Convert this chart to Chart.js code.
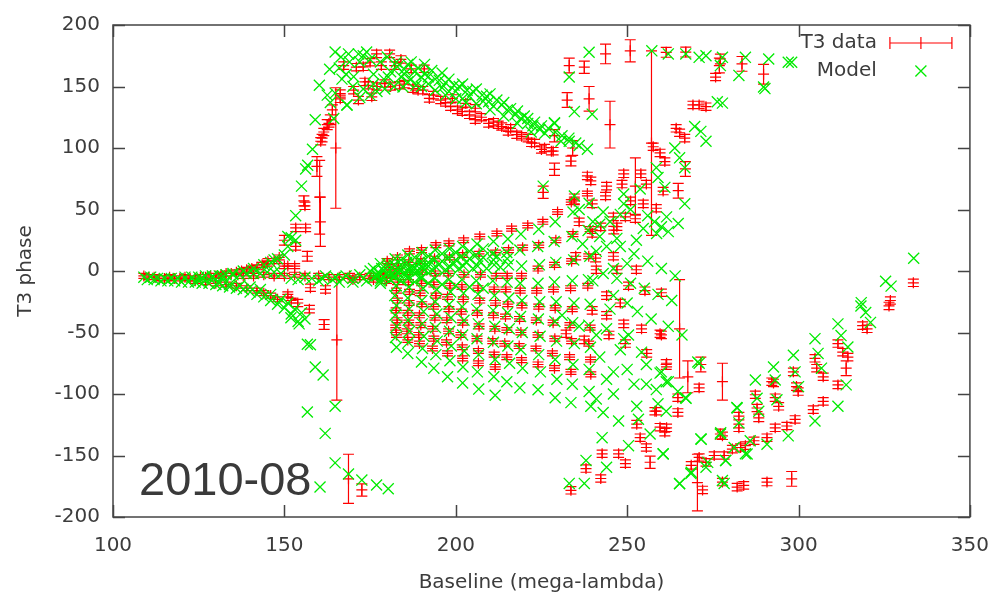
<!DOCTYPE html>
<html>
<head>
<meta charset="utf-8">
<script src="https://cdn.jsdelivr.net/npm/chart.js@4.4.1/dist/chart.umd.min.js"></script>
<style>
html,body{margin:0;padding:0;background:#fff;}
canvas{display:block;}
</style>
</head>
<body>
<canvas id="c" width="1006" height="595"></canvas>
<script>
// ---- tick labels ----
const xTickValues = [100, 150, 200, 250, 300, 350];
const yTickValues = [-200, -150, -100, -50, 0, 50, 100, 150, 200];
const seriesNames = ['T3 data', 'Model'];
const panelLabel = '2010-08';

// ---- T3 data: [baseline (mega-lambda), T3 phase (deg), error (deg)] ----
const t3Points = [
// left tail
[109,-4,2],[110.5,-5,2],[112,-5,2],[113.5,-6,2],[115,-6,2],[116.5,-5,2],[118,-6,2],[119.5,-6,2],[121,-5,2],[122.5,-6,2],
[124,-6,2],[125.5,-5,2],[127,-5,2],[128.5,-4,2],[130,-4,2],[131.5,-3,2],[133,-2,2],[134.5,-2,2],[136,-1,2],[137.5,0,2],
[139,1,2],[140.5,2,2],[142,3,2],[143.5,5,2],[145,6,2],[145.2,8,2],[147,8,2],[148.5,11,2],[150,4,2],[153,4,2],[151,4,2],
[124,-8,2],[127,-9,2],[130,-10,2],[133,-11,2],[136,-12,2],[139,-14,2],[142,-16,2],[144,-18,2],[146,-20,2],[148,-23,2],
[151,-19,2],[152,-24,2],[153.9,-26,3],[157.3,-31,3],[161.6,-43.5,4],[157.6,-13.6,3],[162,-15,3],
[138,-4,2],[141,-4,2],[144,-3,2],[147,-4,2],[150,-4,2],[153,-3,2],[156,-4,2],
// rising branch
[150,25,4],[153.3,20,3],[153.3,35,3],[156.2,35,3],[155.7,57,4],[156,53,3],[156.7,12,4],
[159.5,85,8],[160.3,60,30],[160.5,40,20],[161,108,3],[161.5,113,3],[162.5,119,4],[163.4,123,4],[164,131,4],[165,100,49],
[160.6,105.5,3],[163,120,3],[165.3,-56,49],[168.7,-169,20],[172.6,-178,5],
// middle strand
[160,-4,2],[163,-5,2],[166,-5,2],[169,-4,2],[172,-5,2],[175,-4,2],[178,-4,2],[181,-3,2],[170,-7,2],[176,-7,2],
// arc (upper)
[167.3,167,3],[171,165.7,3],[173,166,3],[175,169.7,3],[176.9,176.5,3],[178.3,167,3],[180.7,176.5,3],[182.2,167,3],
[184,172,3],[187,164.4,3],[190.8,164.4,3],
// arc (main)
[166.3,140,3],[166.3,144.3,3],[170.2,147,3],[171.6,139,3],[173.5,153.7,3],[174.5,151,3],[175.5,141.6,3],[177,150,3],
[179.3,152.4,3],[181,150,3],[183.6,151,3],[185,152,3],[187.5,148.3,3],[189,147,3],[190.4,147,3],[192.3,140.3,3],
[193.5,143,3],[195.6,139,3],[197,137,3],[198.5,133.6,3],[199,140.3,3],[200.5,131,3],[201.9,129.6,3],[202.9,136.3,3],
[204,127,3],[205.7,123,3],[205.7,132.3,3],[207.5,125,3],[209.6,120,3],[211,121,3],[212.4,118.9,3],[213.4,117.5,3],
[215.3,113.5,3],[216,116,3],[217.8,110.8,3],[219.2,109.5,3],[221.1,108,3],[222.1,104.2,3],[223,104,3],[225,98.8,3],
[225.9,100,3],[227.9,97.4,3],[228.4,97.4,3],[228.8,110,5],[228.8,82.7,5],[233.6,89.4,4],[234.1,100,6],[225.5,64,5],[234.6,58.6,4],
// top right
[237.5,165.7,5],[243.7,176.5,8],[250.9,179,9],[257.1,104,75],[261.4,177.8,4],[267.1,178,4],[276.9,167,6],[275.8,157.7,3],
[277.2,172.4,4],[283.5,168.4,6],[289.8,160,8],[232.5,139,6],[238.9,140,10],[245,119,19],[233.1,167,6],
[271,135,3],[269.2,135,3],[273,133.6,3],[264.3,116,3],[265.3,112.4,3],[266.8,108,3],[257.6,101,3],[259.6,96,3],
[261,89,3],[267,83,6],[260.5,65,3],[264.9,65.3,6],[258.5,51,3],[254,79,3],[255.6,70.7,3],[254.7,54.6,3],[252.4,69,23],
[238.4,77.3,3],[239.4,73.3,3],
// rising cluster right of fan
[234.6,57,3],[239.8,54.6,3],[236,40,3],[239.8,30.5,3],[244,69,3],[243.7,61,3],[249,79,3],[248.5,70.7,3],
[246,44,3],[247,36,3],[249.5,44,3],[252.4,42.5,3],[251,57,3],[235,12,3],[240.8,10.4,3],[246,12,3],[241,1,3],[247,1,3],
[252.7,1,3],[250.4,-12,3],[255.2,-16,3],[260,-17.7,3],[265.3,-47,40],[242.3,35.9,3],[246.1,33.2,3],
// fan lattice
[180,8,2],[180.5,3,2],[180,-3,2],[179.8,-8,2],
[183,11,2],[183.2,4,2],[182.8,-2,2],[183,-9,2],[182.7,-16,2],[183,-24,2],[182.6,-32,2],[182.9,-40,2],[182.5,-46,2],[182.7,-52,2],
[186.5,16,2],[186.3,7,2],[186.6,-1,2],[186.2,-9,2],[186.5,-17,2],[186.4,-26,2],[186,-34,2],[186.3,-42,2],[185.8,-49,2],[186,-56,2],
[190,17,2],[189.8,8,2],[190.2,-1,2],[190,-10,2],[189.6,-18,2],[190.1,-27,2],[189.4,-36,2],[189.8,-44,2],[189.2,-52,2],[189.4,-59,2],
[194.2,21,2],[193.8,10,2],[194,-2,2],[193.6,-11,2],[194.2,-20,2],[193.5,-29,2],[193.9,-38,2],[193.3,-47,2],[193.6,-55,2],[193.2,-63,2],
[198,22.5,2],[198.2,11,2],[197.8,-2,2],[198.3,-12,2],[197.6,-21,2],[198,-31,2],[197.4,-40,2],[197.9,-49,2],[197.3,-58,2],[197.6,-67,2],
[202.3,25,2],[202,13,2],[202.4,-3,2],[201.8,-13,2],[202.2,-23,2],[201.6,-33,2],[202,-42,2],[201.5,-52,2],[201.9,-62,2],[202,-71,2],
[207,28,2],[206.8,14,2],[207.2,-3,2],[206.5,-14,2],[207,-24,2],[206.3,-34,2],[206.8,-45,2],[206.2,-55,2],[206.6,-65,2],[206.6,-75,2],
[212,30.5,2],[211.6,15,2],[211.8,-4,2],[211.2,-15,2],[211.6,-26,2],[211,-36,2],[211.4,-47,2],[210.8,-57,2],[211.2,-68,2],[211.5,-78,2],
[216.3,34.5,2],[215.4,17,2],[215,-4,2],[214.6,-15,2],[215.2,-27,2],[214.5,-37,2],[214.9,-48,2],[214.3,-59,2],[214.9,-70,2],
[221,37,2],[219.5,19,2],[219.2,-4,2],[218.8,-16,2],[219.3,-28,2],[218.6,-39,2],[219,-50,2],[218.5,-61,2],[219.2,-72.5,2],
[225.4,40,2],[224.2,21,2],[224,2,2],[223.6,-16,2],[224.2,-29,2],[223.5,-40,2],[224,-52,2],[223.4,-63,2],[224,-76,2],
[229.7,48,2],[229.2,25,2],[228.8,5,2],[228.5,-15,2],[229,-30,2],[228.4,-42,2],[228.9,-55,2],[228.2,-67,2],[228.8,-79,2],
[233.7,56,2],[234.2,30,2],[233.8,8,2],[233.5,-14,2],[234,-31,2],[233.3,-44,2],[233.8,-57,2],[233.2,-70,2],[233.6,-82,2],
[238.4,63,2],[239.2,34,2],[238.8,12,2],[238.5,-12,2],[239.2,-46,2],[238.8,-59,2],[239.3,-72,2],[239.4,-84,2],
// mid right
[239.8,-32,3],[244,-36,3],[249,-43,3],[254.2,-47,3],[259.6,-51,3],[232.2,-51,3],[237.5,-56,3],[244.7,-52,3],[249.5,-59,3],
[255.7,-67,3],[261.4,-76,4],[267.7,-86,13],[271.5,-76,6],[277.8,-90,15],[271,-95,3],[264.8,-103,3],[258.5,-114,3],
[259.6,-127,3],[261,-131,3],[252.8,-124.5,3],[253.8,-135.5,3],[255.6,-143.5,3],[256.7,-155.5,5],[247.5,-148.6,3],
[249.5,-156.6,3],[242.7,-148.6,3],[238,-160.6,3],[242.3,-168.7,3],[233.6,-178.3,3],[264.8,-115,3],[261.5,-127.5,3],
[260,-52,3],[261.5,-75,3],[258.1,-114,3],[244,-20,3],[248,-26,3],
// lower right branch
[268.7,-158,3],[271,-151.6,3],[273,-155.6,3],[275.4,-150,3],[278.3,-150,3],[280.7,-144.8,3],[283.1,-143.5,3],[284.5,-142,3],
[287,-138,3],[290.8,-135.5,3],[293.2,-127.5,3],[296.6,-126,3],[299,-120.7,3],[304.3,-112.7,3],[307.2,-106,3],[270.5,-172,23],
[272,-178,3],[277.8,-171.6,3],[282.1,-175.7,3],[284,-174.3,3],[290.8,-171.6,3],[298,-169,6],[277.2,-132.5,4],[282.6,-118,3],
[282.6,-127.5,3],[277.8,-134,3],[287.4,-100.6,3],[287.9,-111.4,3],[288.4,-119.4,3],[292.7,-91,3],[293.2,-103,3],[294.2,-110,3],
[298.5,-82,3],[299.4,-94,3],[299.9,-98,3],[304.8,-71,3],[305.3,-79,3],[307.2,-86,3],[311.5,-59,3],[312.9,-66,3],[314.4,-70,3],
[313.9,-79,6],[311.5,-92.6,3],[318.7,-44.4,3],[320,-47,3],[326.4,-28.4,3],[326.8,-24,3],[333.5,-9.6,3],[292.2,-90,3]
];

// ---- Model: [baseline (mega-lambda), T3 phase (deg)] ----
const modelPoints = [
// left tail
[109,-5],[110,-7],[111,-5],[112,-7],[113,-6],[114,-8],[115,-6],[116,-8],[117,-6],[118,-8],[119,-6],[120,-9],[121,-5],
[122,-9],[123,-5],[124,-9],[125,-5],[125,-8],[126,-10],[126,-6],[127,-4],[128,-10],[129,-4],[129,-5],[130,-11],[131,-4],
[131,-10],[132,-12],[132,-4],[133,-3],[134,-13],[134,-11],[135,-3],[135,-2],[136,-14],[137,-3],[137,-12],[138,-15],[138,0],
[139,-2],[140,-17],[140,-13],[141,-2],[141,2],[142,-19],[143,-2],[143,-15],[144,-21],[144,5],[145,-1],[146,-24],[146,-19],
[146,7],[147,-1],[147,9],[148,-27],[148,10],[149,-2],[149,-23],[150,-30],[150,13],[151,-26],[151,20],[151,28],[152,-35],
[152,27],[153,-31],[153.3,25],[154,-41],[154.3,-43],[155,-34],[156,-39],[151.9,-38],
// rising branch
[153.3,45],[155,69],[156.2,83],[156.8,86],[158.2,99],[159,123],[160.2,151],[162.5,143],[163.4,137],[163.2,164],
[164.8,178],[164.8,144.6],[166.8,156],[168.3,135],
// falling branch
[156.7,-59.5],[157.6,-60],[159,-78],[161.3,-84.5],[156.7,-114.6],[161.9,-132],[160.4,-175.6],[164.8,-156],
[164.8,-110],[168.7,-165],[172.6,-170],[176.9,-174],[180.3,-177],
// middle strand
[152,-6],[154,-7],[156,-5],[158,-6],[160,-8],[161,-6],[162,-4],[164,-7],[165,-5],[166,-9],[167,-6],[168,-4],[170,-6],
[170,-9],[172,-3],[173,-6],[174,-8],[176,-5],[177,-3],[178,-8],[179,-5],[180,-2],[181,-7],[182,-4],[183,-1],[184,0],
[185,-3],[186,-6],[187,1],[188,-2],[188,2],[190,-5],[190,4],[191,1],[192,4],
// arc
[166.5,174],[168.7,176.5],[170.2,158],[171.6,176.5],[173,175],[175,172],[178,170],[180.3,157.7],[182.7,170],[184.6,149.6],
[186,153.7],[187,170],[188.4,151],[189.9,157.7],[190.9,168],[192,152],[195.2,155],[196,149],[199.5,151],[200,146],
[203.3,147],[204,142],[207.7,143],[208,138],[209.6,137.6],[211,134],[213.4,135],[215,131],[217.3,127],[219,124],[221,120],
[222.5,118],[224.5,115],[226,112],[228.8,120],[230.7,105.5],[233.1,105.5],[238.4,99],[164.4,124],[168.2,135],[175,143],
[179.3,148],[172,141],[177,146],[182,150],[193,163],[196,161],[176,160],[185,164],[198,146],[202,140],[206,136],[210,131],
[214,126],[218,120],[222,113],
[192,158],[194,156],[197,153],[198,156],[201,150],[202,152],[205,146],[206,148],[209,142],[210,144],[212,139],[214,137],
[216,132],[218,130],[220,126],[221,124],[223,121],[225,118],[227,116],[229,113],[231,110],[233,108],[235,104],[236,102],
[183,166],[185,160],[188,162],[191,160],[180,174],[186,168],[189,165],[172,170],[174,178],[169,170],[166,165],[168,160],
[170,150],[173,148],[176,152],[179,156],[181,162],[184,158],[187,156],[190,150],[194,147],[197,143],[200,140],[203,137],
// top right
[238.9,177.8],[233.1,157.7],[234.6,129.6],[239.8,127.5],[228.8,120.5],[257.2,179],[262,176.5],[267.1,176.5],[271,173.7],
[273,175],[277.8,173.7],[277.2,167],[282.6,159],[284.5,173.7],[291.3,172.4],[289.8,149.6],[297,169.7],[276.3,137.6],
[277.8,136.5],[269.7,117.5],[271.5,113.5],[273,105.5],[263.9,100],[265.3,92],[266.8,84],[259,76],[261,68],[266.8,54.6],
[261.5,44],[264.9,38.6],[258.6,30.5],[249,62.6],[253.8,66.7],[258.5,84],[243,48],[249,54.6],[252.7,25],[254.7,34.5],
[247,26.5],[244,20],[241,16],[234.6,61],[225.5,69],[290.2,148.3],[298,169.7],
// right of fan
[243,-2],[247,-6],[251,-10],[255,-14],[259,-19],[263,-24],[246,-20],[250,-26],[253,-33],[257,-39],[262,-45],[266,-52],
[236,50],[240,40],[242,38],[245,40],[248,46],[251,50],[256,45],[258,40],[260,36],[262,32],[237,22],[242,28],[248,20],
[252,14],[256,8],[260,2],[264,-4],[240,-8],[246,2],[250,6],
[242,-70],[244,-88],[246,-100],[248,-64],[250,-80],[252,-92],[241,-104],[243,-115],[231,-36],[236,-45],[241,-52],
// mid right
[246,-82],[233.1,-172.7],[237.5,-172.7],[238,-154],[242.7,-135.5],[247.5,-122],[252.8,-110],[253.3,-120.5],[256.7,-132.5],
[260.5,-148.6],[244,-159.6],[250.4,-142],[255.6,-92],[258.5,-96.4],[259,-108],[261.4,-114],[264.8,-98],[267,-103],
[261.4,-90],[255.6,-76],[259.6,-83],[265.3,-172.7],[268.6,-164.6],[271.5,-136.5],[277.2,-132.5],[282,-111],[271,-75],
[273.5,-155.6],[278.7,-154],[278.3,-172.7],[284.5,-148.6],[285.9,-138],[245,-31],[244,-47],[249,-55],[250.4,-52],[254.2,-66],
// lower right branch
[318.2,-28.4],[319.6,-33.7],[321,-41.8],[311.5,-43],[312.4,-52.5],[314.4,-61.8],[313.9,-92.6],[311.5,-110],[304.8,-55],
[305.7,-67],[306.7,-79],[304.8,-122],[298.5,-68.5],[299,-82],[300,-94],[297,-134],[292.7,-78],[293.2,-88.6],[293.7,-104.7],
[290.8,-140.8],[287.4,-88.6],[287.9,-103.4],[288.4,-114],[285,-148.8],[282.1,-111.4],[282.6,-123.5],[281.2,-143.5],
[278.8,-154],[277.3,-131.5],[277.8,-170.3],[273,-159.6],[271.6,-136.8],[268.7,-163.6],[265.3,-173],[270.6,-74],[267.2,-103.4],
[260.5,-148.8],[260,-82],[262,-90],[333.6,10.4],[325.4,-8.3],[327,-12.3],[318.3,-25.7],
// fan dense band
[176,2],[177,-4],[180,3],[181,-3],[184,5],[185,-1],[188,6],[189,0],[192,7],[193,1],[196,8],[197,1],[200,9],[201,2],
[204,10],[205,2],[208,11],[209,2],[212,12],[213,3],
[175,0],[179,0],[183,2],[187,3],[191,4],[195,5],[199,6],[203,7],[207,8],[211,9],[215,10],[184,-8],[188,-9],[192,-10],
[196,-11],[200,-12],[204,-13],[208,-14],[180,6],[184,9],[188,11],[192,12],[196,14],[200,15],[204,16],[208,18],
// fan lattice
[178,6],[178.4,2],[177.8,-2],[178.2,-6],[178,-10],
[182.3,10],[182,5],[182.5,0],[182.1,-5],[182.6,-12],[182.2,-20],[182.7,-28],[182.3,-36],[182.8,-45],[182.4,-54],[182.7,-62],
[186,13],[185.7,7],[186.2,1],[185.8,-5],[186.3,-13],[186,-22],[186.4,-31],[186.1,-40],[186.5,-49],[186.2,-58],[186,-67],
[190.2,15],[189.8,8],[190.4,2],[190,-6],[190.5,-14],[190.1,-24],[190.6,-33],[190.2,-43],[190.7,-53],[190.3,-63],[190,-74],
[194,17],[193.7,10],[194.3,3],[193.9,-6],[194.4,-15],[194,-25],[194.5,-35],[194.1,-46],[194.6,-57],[194.2,-68],[193.6,-79],
[198.2,18],[197.9,11],[198.4,3],[198,-7],[198.5,-17],[198.1,-27],[198.6,-38],[198.2,-49],[198.7,-61],[198.3,-73],[197.6,-86],
[202,20],[201.7,12],[202.2,4],[201.8,-7],[202.3,-18],[201.9,-29],[202.4,-40],[202,-52],[202.5,-65],[202.1,-78],[202,-91],
[206.2,22],[205.9,13],[206.4,4],[206,-8],[206.5,-19],[206.1,-31],[206.6,-43],[206.2,-55],[206.7,-68],[206.3,-82],[206.7,-96],
[211,24],[210.7,14],[211.2,5],[210.8,-8],[211.3,-20],[210.9,-32],[211.4,-45],[211,-58],[211.5,-72],[211.1,-86],[211.5,-101],
[215.2,26],[214.9,15],[215.4,5],[215,-9],[215.5,-22],[215.1,-34],[215.6,-47],[215.2,-61],[215.7,-75],[214.9,-90],
[219,30],[218.7,17],[219.2,4],[218.8,-10],[219.3,-24],[218.9,-37],[219.4,-50],[219,-64],[219.5,-79],[218.7,-95],
[224.2,34],[223.9,20],[224.4,5],[224,-10],[224.5,-25],[224.1,-39],[224.6,-53],[224.2,-68],[224.7,-82],[224,-96.5],
[229,40],[228.7,24],[229.2,7],[228.8,-9],[229.3,-25],[228.9,-41],[229.4,-57],[229,-72],[229.5,-88],[229,-103],
[234.2,48],[233.9,28],[234.4,9],[234,-8],[234.5,-26],[234.1,-42],[234.6,-59],[234.2,-76],[234,-92],[233.6,-107],
[238.9,55],[238.6,33],[239.1,12],[238.7,-7],[239.2,-27],[238.8,-44],[239.3,-62],[238.9,-80],[238.9,-98],[239.4,-110]
];

// ---- styling ----
const RED = '#ff0000';
const GREEN = 'rgb(0,235,0)';
const INK = '#3c3c3c';
const FONT = '"DejaVu Sans", sans-serif';

const gnuplotDecor = {
  id: 'gnuplotDecor',
  beforeDatasetsDraw(chart) {
    const {ctx, chartArea: a, scales: {x, y}} = chart;
    ctx.save();
    ctx.beginPath();
    ctx.rect(a.left, a.top, a.right - a.left, a.bottom - a.top);
    ctx.clip();
    ctx.strokeStyle = RED;
    ctx.lineWidth = 1.2;
    ctx.beginPath();
    t3Points.forEach(([b, p, e]) => {
      const px = x.getPixelForValue(b);
      const y1 = y.getPixelForValue(p - e);
      const y2 = y.getPixelForValue(p + e);
      ctx.moveTo(px, y1); ctx.lineTo(px, y2);
      ctx.moveTo(px - 5.5, y1); ctx.lineTo(px + 5.5, y1);
      ctx.moveTo(px - 5.5, y2); ctx.lineTo(px + 5.5, y2);
    });
    ctx.stroke();
    ctx.restore();
  },
  afterDraw(chart) {
    const {ctx, chartArea: a, scales: {x, y}} = chart;
    ctx.save();
    // frame
    ctx.strokeStyle = '#444';
    ctx.lineWidth = 1.5;
    ctx.strokeRect(a.left, a.top, a.right - a.left, a.bottom - a.top);
    // inward ticks on all four sides
    const tl = 12;
    ctx.beginPath();
    xTickValues.forEach(v => {
      const px = Math.round(x.getPixelForValue(v)) + 0.5;
      ctx.moveTo(px, a.bottom); ctx.lineTo(px, a.bottom - tl);
      ctx.moveTo(px, a.top); ctx.lineTo(px, a.top + tl);
    });
    yTickValues.forEach(v => {
      const py = Math.round(y.getPixelForValue(v)) + 0.5;
      ctx.moveTo(a.left, py); ctx.lineTo(a.left + tl, py);
      ctx.moveTo(a.right, py); ctx.lineTo(a.right - tl, py);
    });
    ctx.stroke();

    // key
    ctx.font = '20px ' + FONT;
    ctx.fillStyle = INK;
    ctx.textAlign = 'right';
    ctx.textBaseline = 'middle';
    const kx = a.right - 93, ky1 = a.top + 18, ky2 = a.top + 46;
    ctx.fillText(seriesNames[0], kx, ky1);
    ctx.fillText(seriesNames[1], kx, ky2);
    ctx.strokeStyle = RED;
    ctx.lineWidth = 1.2;
    ctx.beginPath();
    const s0 = kx + 13, s1 = kx + 75, sm = (s0 + s1) / 2;
    ctx.moveTo(s0, ky1); ctx.lineTo(s1, ky1);
    [s0, sm, s1].forEach(sx => { ctx.moveTo(sx, ky1 - 6); ctx.lineTo(sx, ky1 + 6); });
    ctx.stroke();
    ctx.strokeStyle = GREEN;
    ctx.lineWidth = 1.3;
    ctx.beginPath();
    ctx.moveTo(sm - 5.5, ky2 - 5.5); ctx.lineTo(sm + 5.5, ky2 + 5.5);
    ctx.moveTo(sm + 5.5, ky2 - 5.5); ctx.lineTo(sm - 5.5, ky2 + 5.5);
    ctx.stroke();

    // panel label
    ctx.font = '47px "Liberation Sans", Arial, sans-serif';
    ctx.fillStyle = '#3a3a3a';
    ctx.textAlign = 'left';
    ctx.textBaseline = 'alphabetic';
    ctx.fillText(panelLabel, a.left + 26, a.bottom - 22);
    ctx.restore();
  }
};

Chart.defaults.font.family = FONT;
Chart.defaults.font.size = 20;
Chart.defaults.color = INK;

new Chart(document.getElementById('c'), {
  type: 'scatter',
  data: {
    datasets: [
      {
        label: seriesNames[1],
        data: modelPoints.map(([b, p]) => ({x: b, y: p})),
        pointStyle: 'crossRot',
        pointRadius: 7.8,
        pointBorderWidth: 1.3,
        borderColor: GREEN,
        backgroundColor: GREEN,
        order: 0
      },
      {
        label: seriesNames[0],
        data: t3Points.map(([b, p]) => ({x: b, y: p})),
        pointStyle: 'cross',
        pointRadius: 5.5,
        pointBorderWidth: 1.2,
        borderColor: RED,
        backgroundColor: RED,
        order: 1
      }
    ]
  },
  options: {
    responsive: false,
    devicePixelRatio: 1,
    animation: false,
    events: [],
    layout: {padding: {top: 19, right: 26, left: 0, bottom: 0}},
    plugins: {legend: {display: false}, tooltip: {enabled: false}},
    scales: {
      x: {
        type: 'linear', min: 100, max: 350,
        grid: {display: false, drawTicks: false},
        border: {display: false},
        ticks: {padding: 17, maxRotation: 0, autoSkip: false, color: INK, font: {size: 20}},
        afterBuildTicks: s => { s.ticks = xTickValues.map(v => ({value: v})); },
        afterFit: s => { s.height = 78; },
        title: {display: true, text: 'Baseline (mega-lambda)', color: INK, font: {size: 20}, padding: {top: 0, bottom: 0}}
      },
      y: {
        type: 'linear', min: -200, max: 200,
        grid: {display: false, drawTicks: false},
        border: {display: false},
        ticks: {padding: 13, autoSkip: false, color: INK, font: {size: 20}},
        afterBuildTicks: s => { s.ticks = yTickValues.map(v => ({value: v})); },
        afterFit: s => { s.width = 113; },
        title: {display: true, text: 'T3 phase', color: INK, font: {size: 20}, padding: {top: 14, bottom: 0}}
      }
    }
  },
  plugins: [gnuplotDecor]
});
</script>
</body>
</html>
